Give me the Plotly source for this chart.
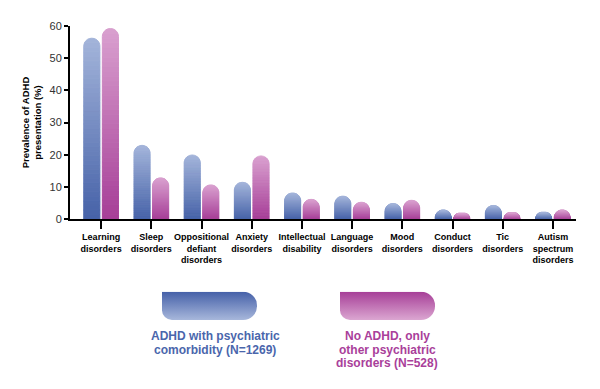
import base64
import plotly.graph_objects as go

categories = ["Learning<br>disorders", "Sleep<br>disorders", "Oppositional<br>defiant<br>disorders",
              "Anxiety<br>disorders", "Intellectual<br>disability", "Language<br>disorders",
              "Mood<br>disorders", "Conduct<br>disorders", "Tic<br>disorders",
              "Autism<br>spectrum<br>disorders"]
adhd = [56.2, 22.9, 19.9, 11.4, 8.1, 7.1, 4.8, 2.8, 4.2, 2.1]
no_adhd = [59.2, 12.8, 10.6, 19.6, 6.1, 5.2, 5.8, 1.8, 2.0, 2.8]
y_ticks = [0, 10, 20, 30, 40, 50, 60]

BLUE_BOTTOM, BLUE_TOP = (70, 98, 168), (163, 180, 218)
PINK_BOTTOM, PINK_TOP = (166, 62, 151), (217, 160, 207)
N_SEG = 40
FONT = "Arial, Liberation Sans, sans-serif"


def mix(c0, c1, t):
    return "rgb(%d,%d,%d)" % tuple(round(a + (b - a) * t) for a, b in zip(c0, c1))


fig = go.Figure()
for values, group, c0, c1 in [(adhd, "a", BLUE_BOTTOM, BLUE_TOP), (no_adhd, "b", PINK_BOTTOM, PINK_TOP)]:
    for k in range(N_SEG):
        col = mix(c0, c1, (k + 0.5) / N_SEG)
        fig.add_trace(go.Bar(
            x=categories, y=[v / N_SEG for v in values], offsetgroup=group,
            marker=dict(color=col, line=dict(color=col, width=1)),
            showlegend=False, hoverinfo="skip"))

# page body has an 8px margin, so the figure is 8px smaller and margins shifted by 8px
fig.update_layout(
    barmode="relative", bargap=0.26, bargroupgap=0.13, barcornerradius="50%",
    width=592, height=381, plot_bgcolor="white", paper_bgcolor="white",
    margin=dict(l=62, r=24, t=13, b=169.7),
    font=dict(family=FONT, color="#222"),
)
fig.update_xaxes(range=[-0.62, 9.46], showline=True, linecolor="black", linewidth=2,
                 ticks="outside", ticklen=8, tickwidth=2, tickcolor="black",
                 tickangle=0, tickfont=dict(size=9, color="black", family=FONT, weight="bold"),
                 showgrid=False, zeroline=False)
fig.update_yaxes(range=[0, 60], tickvals=y_ticks, showline=True, linecolor="black", linewidth=2,
                 ticks="outside", ticklen=4, tickwidth=2, tickcolor="black",
                 tickfont=dict(size=11, color="#333"), showgrid=False, zeroline=False,
                 title=dict(text="Prevalence of ADHD<br>presentation (%)", standoff=6,
                            font=dict(size=9.5, color="black", weight="bold")))


def legend_svg(top, bottom):
    svg = ("<svg xmlns='http://www.w3.org/2000/svg' width='96' height='29' viewBox='0 0 96 29'>"
           "<defs><linearGradient id='g' x1='0' y1='0' x2='0' y2='1'>"
           f"<stop offset='0' stop-color='{top}'/><stop offset='1' stop-color='{bottom}'/>"
           "</linearGradient></defs>"
           "<path d='M0 0 H82 A14 14 0 0 1 96 14 V15 A14 14 0 0 1 82 29 H10 A10 10 0 0 1 0 19 Z' fill='url(#g)'/></svg>")
    return "data:image/svg+xml;base64," + base64.b64encode(svg.encode()).decode()


# positions below are in reference-image pixels
PW, PH, X0, Y0 = 506.0, 198.3, 70.0, 219.3


def px(x):
    return (x - X0) / PW


def py(y):
    return (Y0 - y) / PH


fig.add_layout_image(dict(source=legend_svg("#4560a8", "#a7b7db"), xref="paper", yref="paper",
                          x=px(162), y=py(294), sizex=95 / PW, sizey=29 / PH,
                          xanchor="left", yanchor="top", sizing="stretch", layer="above"))
fig.add_layout_image(dict(source=legend_svg("#a63e97", "#dba6d1"), xref="paper", yref="paper",
                          x=px(340), y=py(294), sizex=95 / PW, sizey=29 / PH,
                          xanchor="left", yanchor="top", sizing="stretch", layer="above"))

legend_texts = [
    (215, "#4a66ac", ["ADHD with psychiatric", "comorbidity (N=1269)"]),
    (387, "#a9409a", ["No ADHD, only", "other psychiatric", "disorders (N=528)"]),
]
for cx, col, lines in legend_texts:
    for i, line in enumerate(lines):
        fig.add_annotation(x=px(cx), y=py(340 + 13.5 * i), xref="paper", yref="paper",
                           text=line, showarrow=False, xanchor="center", yanchor="middle",
                           font=dict(size=12, color=col, family=FONT, weight="bold"))

fig.write_html("out.html")
